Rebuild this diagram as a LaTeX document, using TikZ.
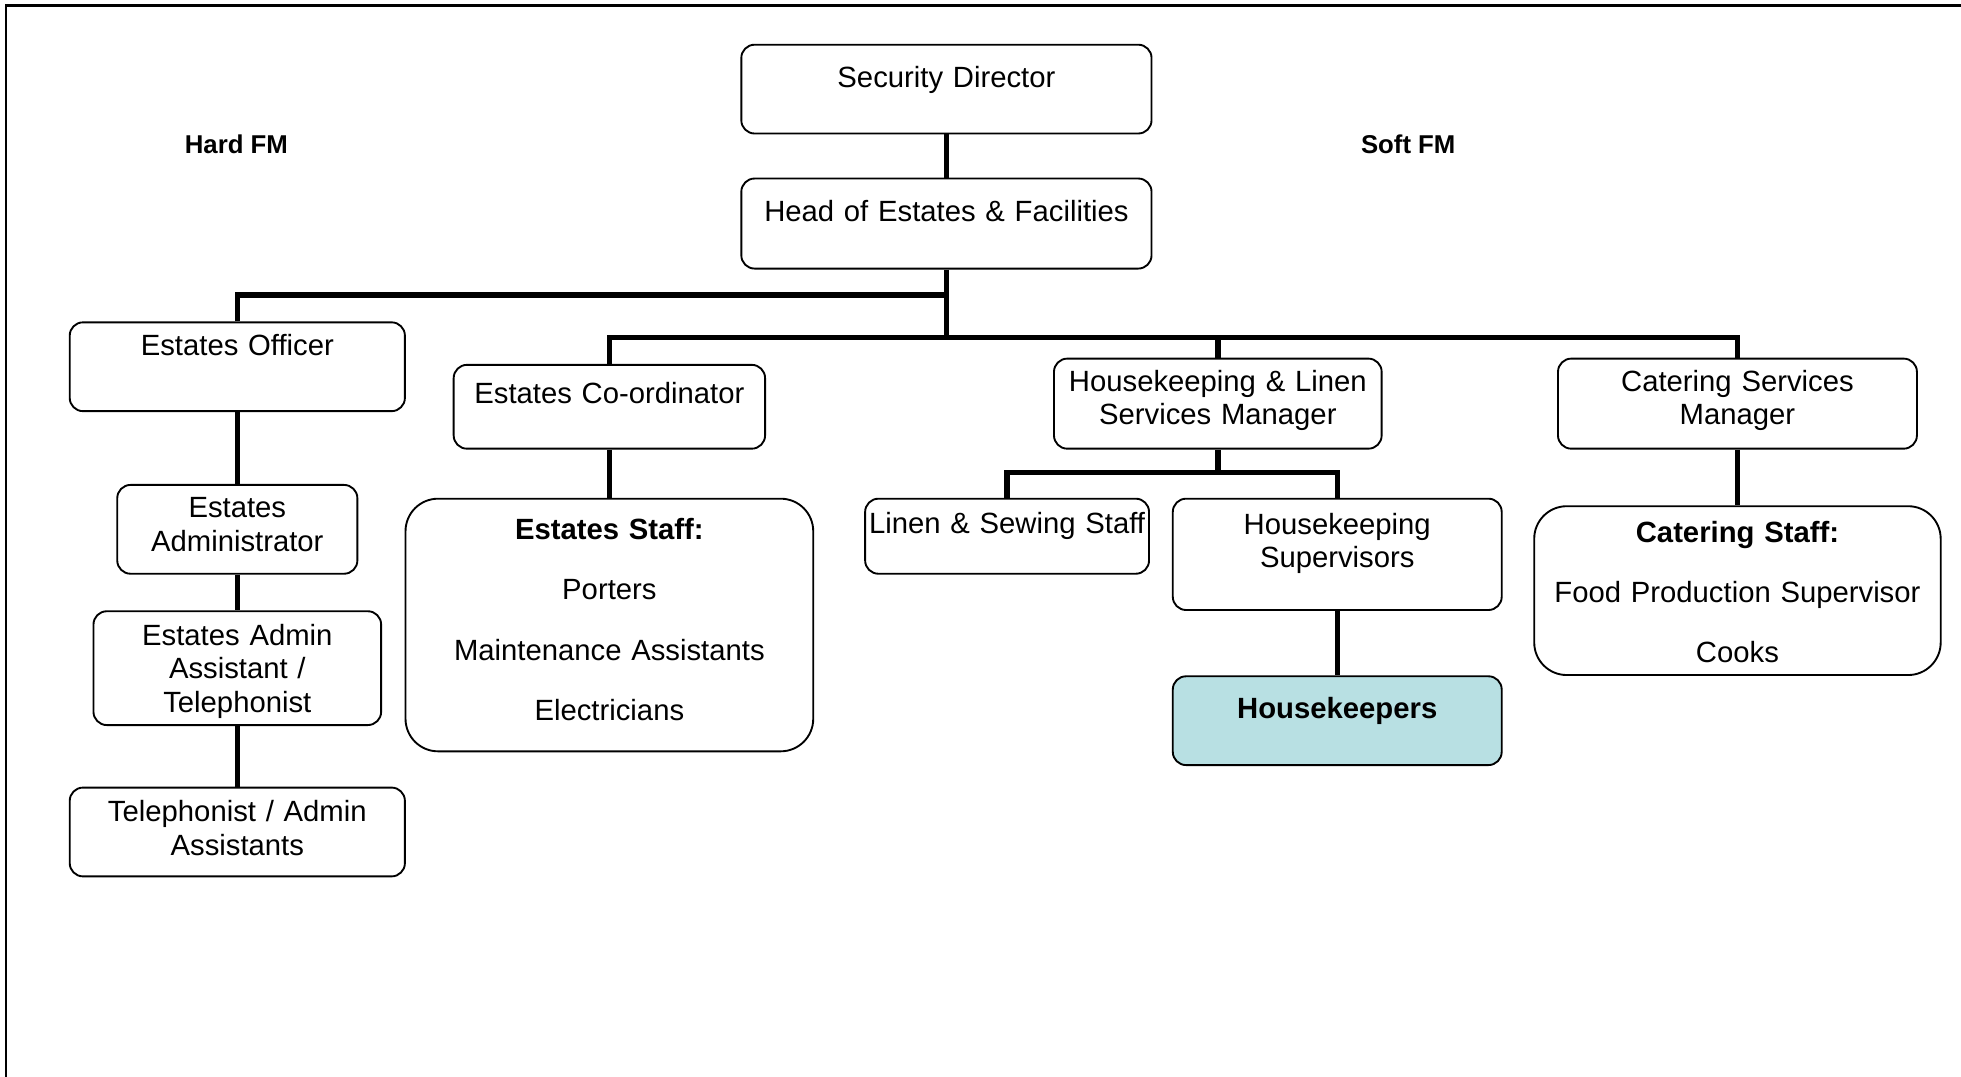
\documentclass[tikz,border=0pt]{standalone}
\usepackage{fontspec}
\setmainfont{Liberation Sans}
\definecolor{hkblue}{RGB}{184,224,227}
\begin{document}
\begin{tikzpicture}[x=0.5pt,y=-0.5pt,
    orgbox/.style n args={3}{draw, line width=0.75pt, rounded corners=5.3pt,
      inner sep=0pt, anchor=north west, align=center,
      font=\fontsize{11.7}{13.3}\selectfont,
      text width=#1, text height=#2, text depth=#3},
    staffbox/.style={rounded corners=13pt},
    link/.style={line width=2.2pt},
    side/.style={anchor=base, font=\bfseries\fontsize{10.3}{12}\selectfont}]
  \useasboundingbox (0,0) rectangle (1568,861);

  % --- Frame (top and left only) ---
  \draw[line width=0.9pt] (4.5,861) -- (4.5,4.5) -- (1568,4.5);

  % --- Group titles ---
  \node[side] (hard) at (189,122.4) {Hard FM};
  \node[side] (soft) at (1126,122.4) {Soft FM};

  % --- Top of the chart ---
  \node[orgbox={164pt}{17pt}{18.5pt}] (sd) at (592,35) {Security Director};
  \node[orgbox={164pt}{17pt}{19pt}] (head) at (592,142) {Head of Estates \& Facilities};

  % --- Hard FM column ---
  \node[orgbox={134pt}{13.2pt}{22.3pt}] (eo) at (55,257) {Estates Officer};
  \node[orgbox={96pt}{13.2pt}{22.3pt}] (ea) at (93,387) {Estates\\Administrator};
  \node[orgbox={115pt}{13.7pt}{31.8pt}] (aa) at (74,488) {Estates Admin\\Assistant /\\Telephonist};
  \node[orgbox={134pt}{13.7pt}{21.8pt}] (tp) at (55,629) {Telephonist / Admin\\Assistants};

  \node[orgbox={124.5pt}{15.5pt}{18pt}] (ec) at (362,291) {Estates Co-ordinator};
  \node[orgbox={163pt}{16.5pt}{84.5pt}, staffbox] (es) at (323.5,398)
    {\textbf{Estates Staff:}\\[10.7pt]Porters\\[10.7pt]Maintenance Assistants\\[10.7pt]Electricians};

  % --- Soft FM columns ---
  \node[orgbox={131pt}{13pt}{23pt}] (hm) at (842,286) {Housekeeping \& Linen\\Services Manager};
  \node[orgbox={113.5pt}{14pt}{16pt}] (ls) at (691,398) {Linen \& Sewing Staff};
  \node[orgbox={131.5pt}{14.25pt}{30.25pt}] (hs) at (937,398) {Housekeeping\\Supervisors};
  \node[orgbox={131.5pt}{17pt}{18.5pt}, fill=hkblue] (hk) at (937,540) {\textbf{Housekeepers}};

  \node[orgbox={143.5pt}{13pt}{23pt}] (cm) at (1245,286) {Catering Services\\Manager};
  \node[orgbox={162.5pt}{14.5pt}{53pt}, staffbox] (cs) at (1226,404)
    {\textbf{Catering Staff:}\\[10.7pt]Food Production Supervisor\\[10.7pt]Cooks};

  % --- Connectors ---
  \coordinate (busA) at (0,236);
  \coordinate (busB) at (0,270);
  \coordinate (busC) at (0,378);

  \draw[link] (sd) -- (head);
  \draw[link] (head.south) -- (head.south |- busB);
  \draw[link] (eo.north) |- (head.south |- busA);
  \draw[link] (ec.north) |- (head.south |- busB) -| (cm.north);
  \draw[link] (hm.north) -- (hm.north |- busB);

  \draw[link] (eo) -- (ea);
  \draw[link] (ea) -- (aa);
  \draw[link] (aa) -- (tp);
  \draw[link] (ec) -- (es);

  \draw[link] (hm.south) -- (hm.south |- busC);
  \draw[link] (ls.north) |- (hm.south |- busC) -| (hs.north);
  \draw[link] (hs) -- (hk);
  \draw[link] (cm) -- (cs);
\end{tikzpicture}
\end{document}
